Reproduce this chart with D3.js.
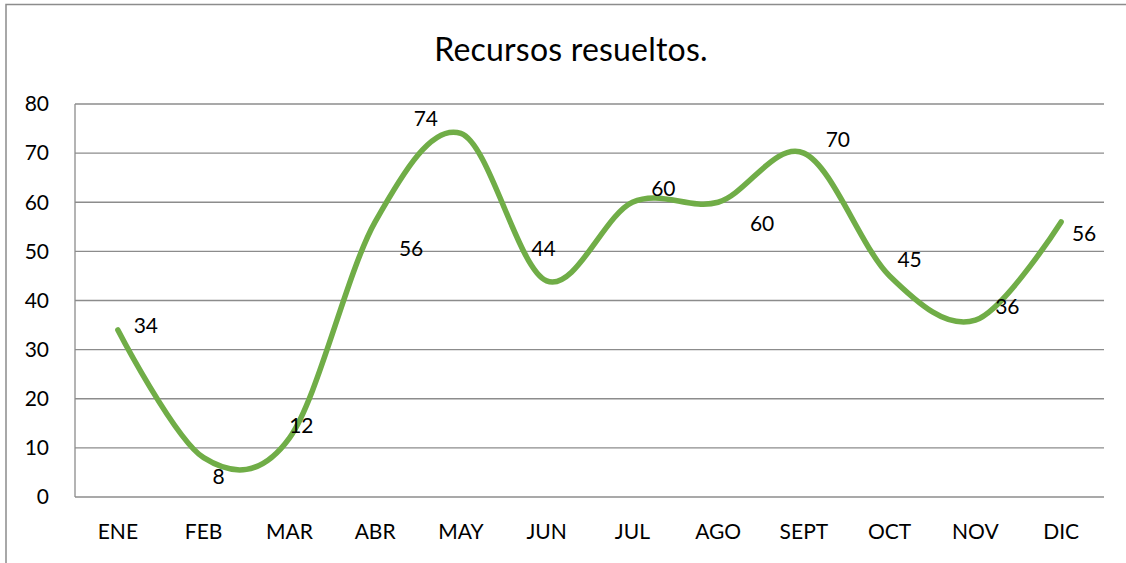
<!DOCTYPE html>
<html>
<head>
<meta charset="utf-8">
<script src="https://cdn.jsdelivr.net/npm/d3@7"></script>
<style>
  body { margin: 0; background: #fff; }
  text { font-family: Lato, "Open Sans", sans-serif; fill: #000; }
</style>
</head>
<body>
<svg id="chart" width="1126" height="563"></svg>
<script>
// chart data
const months = ['ENE', 'FEB', 'MAR', 'ABR', 'MAY', 'JUN', 'JUL', 'AGO', 'SEPT', 'OCT', 'NOV', 'DIC'];
const resueltos = [34, 8, 12, 56, 74, 44, 60, 60, 70, 45, 36, 56];
const yTicks = [0, 10, 20, 30, 40, 50, 60, 70, 80];

// label nudges (px) like in the original sheet
const labelDx = [28, 15, 12, 36, -35, -3, 31, 44, 34, 20, 32, 23];
const labelDy = [-4, 19, -12, 27, -15, -32, -14, 21, -13, -16, -14, 12];

const svg = d3.select('#chart');
const margin = { left: 75, right: 22, top: 104, bottom: 66 };
const W = 1126, H = 563;

// frame
svg.append('path')
  .attr('d', 'M6,563 L6,4.5 L1126,4.5')
  .attr('fill', 'none').attr('stroke', '#8c8c8c').attr('stroke-width', 1.5);

svg.append('text')
  .attr('x', 571).attr('y', 61)
  .attr('text-anchor', 'middle')
  .style('font-size', '32px')
  .style('letter-spacing', '0.2px')
  .text('Recursos resueltos.');

const x = d3.scalePoint().domain(months).range([margin.left, W - margin.right]).padding(0.5);
const y = d3.scaleLinear().domain([0, 80]).range([H - margin.bottom, margin.top]);

// grid
svg.append('g').selectAll('line').data(yTicks).enter().append('line')
  .attr('x1', margin.left).attr('x2', W - margin.right)
  .attr('y1', d => y(d)).attr('y2', d => y(d))
  .attr('stroke', '#8c8c8c').attr('stroke-width', 1.3);
svg.append('line')
  .attr('x1', margin.left).attr('x2', margin.left)
  .attr('y1', y(0)).attr('y2', y(80))
  .attr('stroke', '#8c8c8c').attr('stroke-width', 1.3);

// axis labels
svg.append('g').selectAll('text').data(yTicks).enter().append('text')
  .attr('x', 49).attr('y', d => y(d)).attr('dy', '0.35em')
  .attr('text-anchor', 'end')
  .style('font-size', '21px')
  .text(d => d);
svg.append('g').selectAll('text').data(months).enter().append('text')
  .attr('x', d => x(d)).attr('y', 539)
  .attr('text-anchor', 'middle')
  .style('font-size', '21px')
  .text(d => d);

// line
const line = d3.line()
  .x((d, i) => x(months[i]))
  .y(d => y(d))
  .curve(d3.curveCatmullRom.alpha(0));
svg.append('path')
  .datum(resueltos)
  .attr('d', line)
  .attr('fill', 'none')
  .attr('stroke', '#70ad47')
  .attr('stroke-width', 5.5)
  .attr('stroke-linecap', 'round');

// value labels
svg.append('g').selectAll('text').data(resueltos).enter().append('text')
  .attr('x', (d, i) => x(months[i]) + labelDx[i])
  .attr('y', (d, i) => y(d) + labelDy[i])
  .attr('dy', '0.35em')
  .attr('text-anchor', 'middle')
  .style('font-size', '21px')
  .text(d => d);
</script>
</body>
</html>
